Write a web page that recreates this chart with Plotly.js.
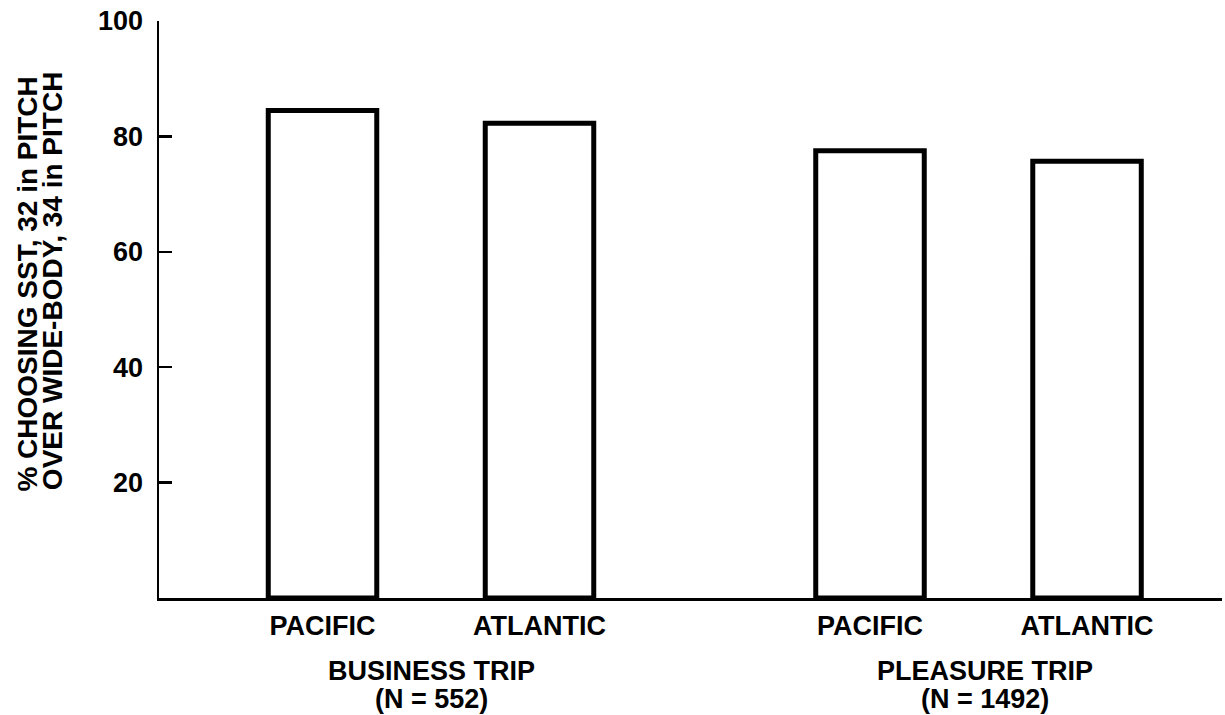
<!DOCTYPE html>
<html>
<head>
<meta charset="utf-8">
<script src="https://cdn.plot.ly/plotly-3.0.1.min.js"></script>
<style>
  html, body { margin: 0; padding: 0; background: #fff; }
  #chart { width: 1225px; height: 715px; }
</style>
</head>
<body>
<div id="chart"></div>
<script>
// ---- data ----
const categories = ["PACIFIC", "ATLANTIC"];
const groupNames = ["BUSINESS TRIP", "PLEASURE TRIP"];
const sampleSizes = ["(N = 552)", "(N = 1492)"];
const businessValues = [84.5, 82.3];
const pleasureValues = [77.5, 75.7];
const yTickValues = [20, 40, 60, 80, 100];
const yTitleLines = ["% CHOOSING SST, 32 in PITCH", "OVER WIDE-BODY, 34 in PITCH"];

// ---- style ----
const FONT = "Liberation Sans, Arial, Helvetica, sans-serif";
const barStyle = {
  type: "bar",
  width: 0.5,
  marker: { color: "#ffffff", line: { color: "#000000", width: 5 } },
  hoverinfo: "skip",
  cliponaxis: false
};

const traces = [
  Object.assign({}, barStyle, { x: categories, y: businessValues, xaxis: "x", yaxis: "y" }),
  Object.assign({}, barStyle, { x: categories, y: pleasureValues, xaxis: "x2", yaxis: "y" })
];

const xCommon = {
  type: "category",
  categoryorder: "array",
  categoryarray: categories,
  showgrid: false,
  zeroline: false,
  showline: true,
  linecolor: "#000",
  linewidth: 2.5,
  ticks: "",
  tickfont: { family: FONT, size: 27, color: "#000", weight: "bold" },
  ticklabelstandoff: 2,
  fixedrange: true,
  anchor: "y"
};

const annotations = [];
const groupAxes = [{ ref: "x", x: 0.5 }, { ref: "x2", x: 0.532 }];
groupNames.forEach((g, i) => {
  annotations.push({
    text: "<b>" + g + "</b>", xref: groupAxes[i].ref, x: groupAxes[i].x,
    yref: "paper", y: -0.127, xanchor: "center", yanchor: "middle",
    showarrow: false, font: { family: FONT, size: 27, color: "#000" }
  });
  annotations.push({
    text: "<b>" + sampleSizes[i] + "</b>", xref: groupAxes[i].ref, x: groupAxes[i].x,
    yref: "paper", y: -0.175, xanchor: "center", yanchor: "middle",
    showarrow: false, font: { family: FONT, size: 27, color: "#000" }
  });
});
const yTitlePos = [{ x: -0.1237, y: 0.544 }, { x: -0.1002, y: 0.550 }];
yTitleLines.forEach((t, i) => {
  annotations.push({
    text: "<b>" + t + "</b>", xref: "paper", yref: "paper",
    x: yTitlePos[i].x, y: yTitlePos[i].y, xanchor: "center", yanchor: "middle",
    textangle: -90, showarrow: false,
    font: { family: FONT, size: 28, color: "#000" }
  });
});

const layout = {
  width: 1225,
  height: 715,
  margin: { l: 159, r: 3, t: 21, b: 117, pad: 0 },
  paper_bgcolor: "#ffffff",
  plot_bgcolor: "#ffffff",
  showlegend: false,
  font: { family: FONT, color: "#000" },
  xaxis: Object.assign({}, xCommon, { domain: [0, 0.5134], range: [-0.7535, 1.7615] }),
  xaxis2: Object.assign({}, xCommon, { domain: [0.5134, 1], range: [-0.7615, 1.622] }),
  yaxis: {
    range: [0, 100],
    tickmode: "array",
    tickvals: yTickValues,
    ticktext: yTickValues.map(String),
    ticks: "inside",
    ticklen: 13,
    tickwidth: 2.5,
    tickcolor: "#000",
    showline: true,
    linecolor: "#000",
    linewidth: 2.5,
    showgrid: false,
    zeroline: false,
    tickfont: { family: FONT, size: 27, color: "#000", weight: "bold" },
    ticklabelstandoff: 8,
    fixedrange: true,
    anchor: "x"
  },
  annotations: annotations
};

Plotly.newPlot("chart", traces, layout, { displayModeBar: false, staticPlot: true });
</script>
</body>
</html>
